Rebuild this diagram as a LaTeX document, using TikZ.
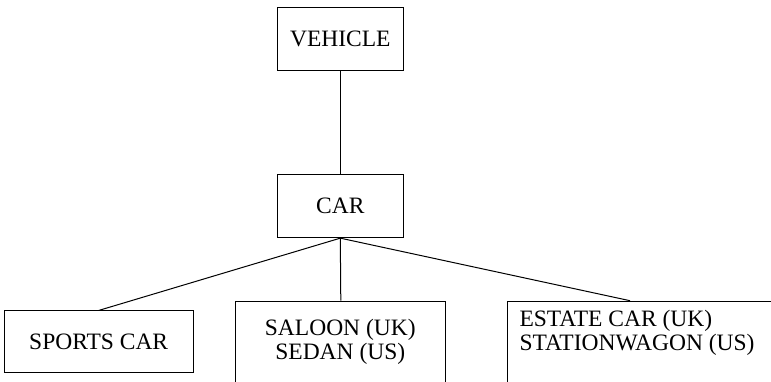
\documentclass[tikz,border=0pt]{standalone}
\usepackage{fontspec}
\setmainfont{Liberation Serif}
\begin{document}
\begin{tikzpicture}[x=1pt,y=-1pt,
  box/.style={draw, line width=1pt, inner sep=0pt},
  lbl/.style={font=\fontsize{23.5}{24.5}\selectfont, inner sep=0pt},
  link/.style={line width=1pt}]
\useasboundingbox (0,0) rectangle (771,382);
\clip (0,0) rectangle (771,382);
\node[box, lbl, minimum width=126pt, minimum height=63.4pt] (vehicle) at (340.3,39) {VEHICLE};
\node[box, lbl, minimum width=126pt, minimum height=62.7pt] (car) at (340.3,206.3) {CAR};
\node[box, lbl, minimum width=189.3pt, minimum height=61.7pt] (sports) at (98.7,341.8) {SPORTS CAR};
\node[box, minimum width=210.3pt, minimum height=100pt, anchor=north west] (saloon) at (235.15,300.7) {};
\node[lbl, align=center, anchor=base] (saloontext) at (340.3,359.5) {SALOON (UK)\\SEDAN (US)};
\node[box, minimum width=290pt, minimum height=100pt, anchor=north west] (estate) at (506.7,300.7) {};
\node[lbl, align=left, anchor=base west] (estatetext) at (519.3,350.7) {ESTATE CAR (UK)\\STATIONWAGON (US)};
\coordinate (estatetop) at (630,300.7);
\draw[link] (vehicle.south) -- (car.north);
\draw[link] (car.south) -- (sports.north);
\draw[link] (car.south) -- (saloon.north);
\draw[link] (car.south) -- (estatetop);
\end{tikzpicture}
\end{document}
